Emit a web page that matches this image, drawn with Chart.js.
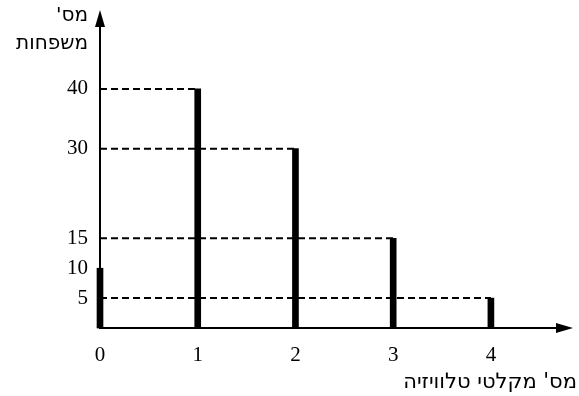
<!DOCTYPE html>
<html>
<head>
<meta charset="utf-8">
<script src="https://cdn.jsdelivr.net/npm/chart.js@4"></script>
<style>
  html, body { margin: 0; padding: 0; background: #fff; }
  #wrap { width: 579px; height: 396px; }
</style>
</head>
<body>
<div id="wrap"><canvas id="tvChart" width="579" height="396"></canvas></div>
<script>
const tvSets = [0, 1, 2, 3, 4];
const families = [10, 40, 30, 15, 5];
const yTickValues = [5, 10, 15, 30, 40];
const yTitleLines = ["מס'", "משפחות"];
const xTitle = "מס' מקלטי טלוויזיה";

const FONT = "DejaVu Sans";
const NUM_FONT = "Liberation Serif";

// dashed guide lines from the y axis to the top of each bar
const guides = tvSets
    .map((x, i) => ({ x, y: families[i] }))
    .filter(p => p.x > 0)
    .map(p => ({
        type: "line",
        data: [{ x: 0, y: p.y }, { x: p.x, y: p.y }],
        borderColor: "#000",
        borderWidth: 2,
        borderDash: [7, 4],
        pointRadius: 0,
        fill: false,
        order: 2
    }));

const axesPlugin = {
    id: "arrowAxes",
    beforeDatasetsDraw(chart) {
        const { ctx, chartArea } = chart;
        const left = chartArea.left, bottom = chartArea.bottom;
        ctx.save();
        ctx.strokeStyle = "#000";
        ctx.fillStyle = "#000";
        ctx.lineWidth = 2;
        ctx.beginPath();
        ctx.moveTo(left, bottom);
        ctx.lineTo(left, chartArea.top + 12);
        ctx.moveTo(left - 1, bottom);
        ctx.lineTo(chartArea.right - 12, bottom);
        ctx.stroke();
        // arrow heads
        ctx.beginPath();
        ctx.moveTo(left, chartArea.top);
        ctx.lineTo(left - 5, chartArea.top + 17);
        ctx.lineTo(left + 5, chartArea.top + 17);
        ctx.closePath();
        ctx.fill();
        ctx.beginPath();
        ctx.moveTo(chartArea.right, bottom);
        ctx.lineTo(chartArea.right - 17, bottom - 5);
        ctx.lineTo(chartArea.right - 17, bottom + 5);
        ctx.closePath();
        ctx.fill();
        ctx.restore();
    },
    afterDraw(chart) {
        const { ctx, chartArea } = chart;
        ctx.save();
        ctx.fillStyle = "#000";
        ctx.font = "20px '" + FONT + "'";
        ctx.direction = "rtl";
        ctx.textAlign = "right";
        ctx.textBaseline = "middle";
        ctx.fillText(yTitleLines[0], chartArea.left - 12, 16);
        ctx.fillText(yTitleLines[1], chartArea.left - 12, 44);
        ctx.font = "21px '" + FONT + "'";
        ctx.fillText(xTitle, 577, 383);
        ctx.restore();
    }
};

new Chart(document.getElementById("tvChart"), {
    data: {
        datasets: [{
            type: "bar",
            data: tvSets.map((x, i) => ({ x, y: families[i] })),
            backgroundColor: "#000",
            borderWidth: 0,
            barThickness: 6,
            clip: false,
            order: 1
        }, ...guides]
    },
    options: {
        responsive: false,
        animation: false,
        layout: { padding: { top: 10, right: 6, left: 0, bottom: 0 } },
        plugins: {
            legend: { display: false },
            tooltip: { enabled: false }
        },
        scales: {
            x: {
                type: "linear",
                min: 0,
                max: 4.84,
                offset: false,
                afterBuildTicks: s => { s.ticks = tvSets.map(v => ({ value: v })); },
                afterFit: s => { s.height = 68; s.paddingLeft = 0; s.paddingRight = 0; },
                grid: { display: false, drawTicks: false },
                border: { display: false },
                ticks: {
                    color: "#000",
                    padding: 15,
                    maxRotation: 0,
                    font: { family: NUM_FONT, size: 21 }
                }
            },
            y: {
                min: 0,
                max: 53.2,
                afterBuildTicks: s => { s.ticks = yTickValues.map(v => ({ value: v })); },
                afterFit: s => { s.width = 100; s.paddingTop = 0; s.paddingBottom = 0; },
                grid: { display: false, drawTicks: false },
                border: { display: false },
                ticks: {
                    color: "#000",
                    padding: 12,
                    font: { family: NUM_FONT, size: 21 }
                }
            }
        }
    },
    plugins: [axesPlugin]
});
</script>
</body>
</html>
